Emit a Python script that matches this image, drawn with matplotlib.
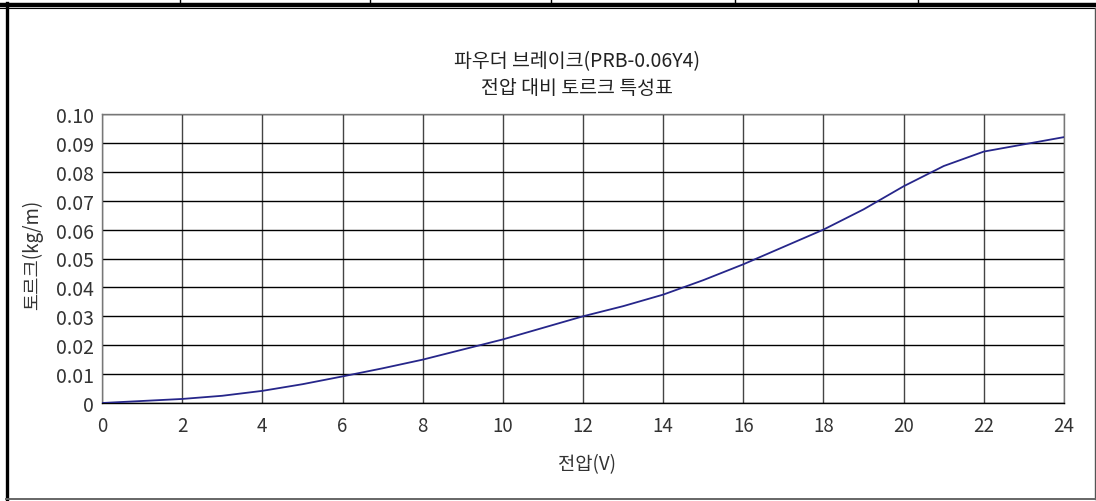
import matplotlib.pyplot as plt
from matplotlib.lines import Line2D
import numpy as np

plt.rcParams['font.family'] = ['Noto Sans CJK KR', 'DejaVu Sans']

# data
voltage = [0, 1, 2, 3, 4, 5, 6, 7, 8, 9, 10, 11, 12, 13, 14, 15, 16, 17, 18, 19, 20, 21, 22, 23, 24]
torque = [0.0, 0.0007, 0.0014, 0.0025, 0.0042, 0.0065, 0.0092, 0.012, 0.015, 0.0185, 0.022,
          0.026, 0.030, 0.0335, 0.0375, 0.0425, 0.048, 0.054, 0.060, 0.067, 0.075, 0.082,
          0.087, 0.0895, 0.092]
x_ticks = np.arange(0, 25, 2)
y_ticks = np.round(np.arange(0, 0.101, 0.01), 2)
y_labels = ['0'] + ['%.2f' % v for v in y_ticks[1:]]

W, H = 1096, 502
def fx(px):
    return px / W
def fy(py):
    return 1 - py / H

fig = plt.figure(figsize=(10.96, 5.02), dpi=100)
ax = fig.add_axes([fx(102), fy(404), 962 / W, 289 / H])

ax.plot(voltage, torque, color='#26268a', lw=1.3, zorder=3)

ax.set_xlim(0, 24)
ax.set_ylim(0, 0.10)
ax.set_xticks(x_ticks)
ax.set_yticks(y_ticks)
ax.set_yticklabels(y_labels)
ax.tick_params(length=0, labelcolor='#333333')
ax.tick_params(axis='y', labelsize=14, pad=6)
ax.tick_params(axis='x', labelsize=13.5, pad=9)
for t in ax.get_xticklabels() + ax.get_yticklabels():
    t.set_fontweight('light')

ax.yaxis.grid(True, color='black', lw=1)
ax.xaxis.grid(True, color='#444444', lw=1)
for s in ax.spines.values():
    s.set_color('#777777')
    s.set_linewidth(1)
ax.spines['bottom'].set_color('black')

fig.text(fx(587), fy(465), '전압(V)', ha='center', va='center', fontsize=13.5,
         color='#333333', fontweight='light')
fig.text(fx(33), fy(255), '토르크(kg/m)', ha='center', va='center', rotation=90,
         fontsize=13.5, color='#333333', fontweight='light')

fig.text(fx(577), fy(62), '파우더 브레이크(PRB-0.06Y4)', ha='center', va='center',
         fontsize=14, color='#222222')
fig.text(fx(577), fy(89), '전압 대비 토르크 특성표', ha='center', va='center',
         fontsize=14, color='#222222')

# surrounding table border
fig.add_artist(Line2D([0, 1], [fy(5.5), fy(5.5)], color='black', lw=3.2))
fig.add_artist(Line2D([0, 1], [fy(9), fy(9)], color='black', lw=0.8))
for sx in [180, 370, 551, 735, 918]:
    fig.add_artist(Line2D([fx(sx), fx(sx)], [fy(0), fy(4)], color='black', lw=1))
fig.add_artist(Line2D([fx(6.5), fx(6.5)], [fy(4), fy(500)], color='black', lw=2.4))
fig.add_artist(Line2D([fx(1094.5), fx(1094.5)], [fy(9), fy(500)], color='#555555', lw=1))
fig.add_artist(Line2D([fx(6), fx(1095)], [fy(499.5), fy(499.5)], color='#666666', lw=1.4))

fig.savefig('out.png', dpi=100)
